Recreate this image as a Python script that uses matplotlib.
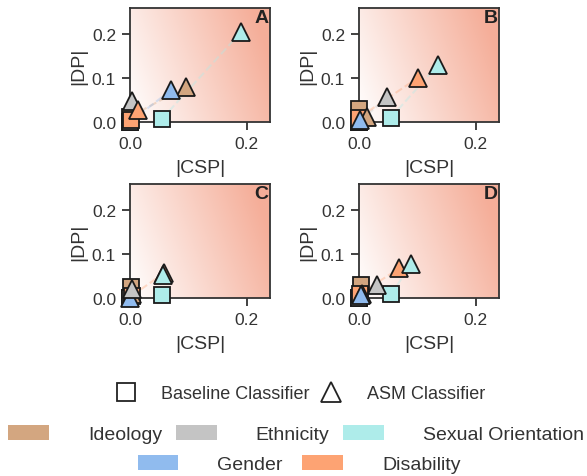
import numpy as np
import matplotlib
matplotlib.use("Agg")
import matplotlib.pyplot as plt
from matplotlib.colors import LinearSegmentedColormap
from matplotlib.lines import Line2D
from matplotlib.patches import Patch

plt.rcParams['font.family'] = ['Liberation Sans', 'DejaVu Sans']

# categorias e cores
categorias = ['Ideology', 'Ethnicity', 'Sexual Orientation', 'Gender', 'Disability']
cores = ['#d3a680', '#c4c4c4', '#aeecea', '#90bbee', '#fda373']

paineis = ['A', 'B', 'C', 'D']

# |CSP| e |DP| do classificador baseline (quadrado) por painel
base_csp = {
    'A': [0.000, 0.000, 0.054, 0.000, 0.002],
    'B': [0.000, 0.000, 0.054, 0.000, 0.000],
    'C': [0.002, 0.000, 0.055, 0.000, 0.003],
    'D': [0.003, 0.000, 0.055, 0.000, 0.002],
}
base_dp = {
    'A': [0.012, 0.000, 0.006, 0.000, 0.004],
    'B': [0.030, 0.000, 0.009, 0.000, 0.010],
    'C': [0.025, 0.000, 0.006, 0.000, 0.005],
    'D': [0.029, 0.000, 0.008, 0.000, 0.010],
}
# |CSP| e |DP| do classificador ASM (triangulo) por painel
asm_csp = {
    'A': [0.096, 0.003, 0.190, 0.070, 0.013],
    'B': [0.014, 0.048, 0.136, 0.002, 0.101],
    'C': [0.004, 0.003, 0.056, 0.000, 0.059],
    'D': [0.005, 0.030, 0.089, 0.003, 0.069],
}
asm_dp = {
    'A': [0.080, 0.048, 0.203, 0.072, 0.028],
    'B': [0.012, 0.056, 0.130, 0.004, 0.100],
    'C': [0.010, 0.020, 0.052, 0.000, 0.057],
    'D': [0.010, 0.029, 0.076, 0.006, 0.067],
}

xticks = [0.0, 0.2]
yticks = [0.0, 0.1, 0.2]

# ordem de desenho (ideology, gender, ethnicity, disability, sexual orientation)
ordem = [0, 3, 1, 4, 2]

fig = plt.figure(figsize=(5.87, 4.77), dpi=100)
W, H = 587, 477

# posicoes dos eixos em pixels (esquerda, topo, direita, base)
caixas = {'A': (130, 9, 270, 123), 'B': (359, 9, 499, 123),
          'C': (130, 185, 270, 299), 'D': (359, 185, 499, 299)}

xlim = (0.0, 0.24)
ylim = (0.0, 0.258)
cmap = LinearSegmentedColormap.from_list('grad', ['#ffffff', '#f5ae99'])

gx = np.linspace(0, 1, 200)
gy = np.linspace(0, 1, 200)
GX, GY = np.meshgrid(gx, gy)
grad = np.clip(0.85 * GX + 0.25 * GY, 0, 1)

for p in paineis:
    l, t, r, b = caixas[p]
    ax = fig.add_axes([l / W, 1 - b / H, (r - l) / W, (b - t) / H])
    ax.imshow(grad, origin='lower', extent=[xlim[0], xlim[1], ylim[0], ylim[1]],
              cmap=cmap, aspect='auto', zorder=0, vmin=0, vmax=1)
    for i in ordem:
        ax.plot([base_csp[p][i], asm_csp[p][i]], [base_dp[p][i], asm_dp[p][i]],
                ls='--', color=cores[i], alpha=0.35, lw=1.5, zorder=1)
    for i in ordem:
        ax.plot(base_csp[p][i], base_dp[p][i], marker='s', ms=12, mfc=cores[i],
                mec='#1a1a1a', mew=1.3, ls='none', clip_on=False, zorder=3)
    for i in ordem:
        ax.plot(asm_csp[p][i], asm_dp[p][i], marker='^', ms=13, mfc=cores[i],
                mec='#1a1a1a', mew=1.3, ls='none', clip_on=False, zorder=4)
    ax.set_xlim(xlim)
    ax.set_ylim(ylim)
    ax.set_xticks(xticks)
    ax.set_yticks(yticks)
    ax.set_xticklabels(['0.0', '0.2'])
    ax.set_yticklabels(['0.0', '0.1', '0.2'])
    ax.tick_params(labelsize=12.5, colors='#333333', length=6, width=1.3, pad=4)
    for s in ax.spines.values():
        s.set_color('#333333')
        s.set_linewidth(1.3)
    ax.set_xlabel('|CSP|', fontsize=14, color='#333333', labelpad=6)
    ax.set_ylabel('|DP|', fontsize=14, color='#333333', labelpad=3)
    ax.text(0.99, 0.99, p, transform=ax.transAxes, ha='right', va='top',
            fontsize=14, fontweight='bold', color='#222222')

# legenda dos classificadores
marcas = [Line2D([], [], marker='s', ms=13, mfc='none', mec='#222222', mew=1.3, ls='none'),
          Line2D([], [], marker='^', ms=14, mfc='none', mec='#222222', mew=1.3, ls='none')]
fig.legend(marcas, ['Baseline Classifier', 'ASM Classifier'], ncol=2,
           loc='center', bbox_to_anchor=(300 / W, 1 - 395 / H), frameon=False,
           fontsize=13, handlelength=1.2, handletextpad=1.35, columnspacing=0.6,
           labelcolor='#333333')

# legenda das categorias (duas linhas)
patches = [Patch(facecolor=c, edgecolor='none') for c in cores]
fig.legend(patches[:3], categorias[:3], ncol=3, loc='center',
           bbox_to_anchor=(296 / W, 1 - 435 / H), frameon=False, fontsize=14,
           handlelength=2.1, handleheight=0.82, handletextpad=2.0, columnspacing=0.7,
           labelcolor='#333333')
fig.legend(patches[3:], categorias[3:], ncol=2, loc='center',
           bbox_to_anchor=(299 / W, 1 - 465 / H), frameon=False, fontsize=14,
           handlelength=2.1, handleheight=0.82, handletextpad=2.0, columnspacing=1.0,
           labelcolor='#333333')

fig.savefig('out.png', dpi=100)
